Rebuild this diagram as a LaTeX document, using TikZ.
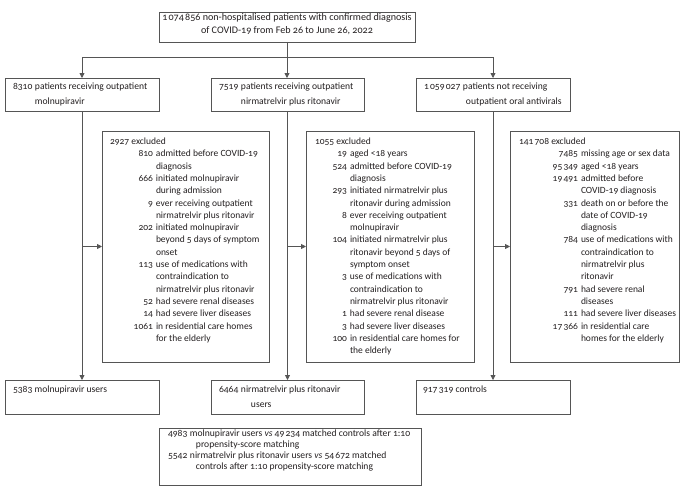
\documentclass[tikz,border=0pt]{standalone}
\usepackage{fontspec}
\setmainfont[Numbers=OldStyle]{Carlito}
\usepackage{array}
\usetikzlibrary{arrows.meta}
\newcommand\ts{\hspace{1.2pt}}
\definecolor{lc}{HTML}{555555}
\definecolor{tc}{HTML}{231F20}
\begin{document}
\begin{tikzpicture}[x=1pt,y=-1pt,
  box/.style={draw=lc, line width=0.8pt, inner sep=0pt, outer sep=0pt, anchor=north west},
  txt/.style={inner sep=0pt, outer sep=0pt, anchor=north west, text=tc},
  arr/.style={draw=lc, line width=0.8pt, -{Triangle[length=5pt,width=5pt]}},
  ln/.style={draw=lc, line width=0.8pt},
  rowf/.style={font=\fontsize{9.6}{14.5}\selectfont},
  exf/.style={font=\fontsize{9.5}{12.3}\selectfont},
  finf/.style={font=\fontsize{9.6}{10.8}\selectfont}]
\path[use as bounding box, fill=white] (0,0) rectangle (682,495);

% top box
\node[box, minimum width=256, minimum height=30] (top) at (159,12) {};
\node[txt, anchor=north, font=\fontsize{10.1}{13.4}\selectfont] (topt) at (287,11.1)
 {\begin{tabular}{@{}c@{}}1\ts074\ts856 non-hospitalised patients with confirmed diagnosis\\ of COVID-19 from Feb 26 to June 26, 2022\end{tabular}};

% row boxes
\node[box, minimum width=154, minimum height=33] (r1) at (5,78) {};
\node[box, minimum width=153, minimum height=33] (r2) at (211,78) {};
\node[box, minimum width=154, minimum height=33] (r3) at (416,78) {};
\node[txt, rowf] (r1t) at (13,79.4) {\begin{tabular}{@{}l@{\hspace{2.5pt}}l@{}}8310 & patients receiving outpatient\\ & molnupiravir\end{tabular}};
\node[txt, rowf] (r2t) at (219,79.4) {\begin{tabular}{@{}l@{\hspace{2.5pt}}l@{}}7519 & patients receiving outpatient\\ & nirmatrelvir plus ritonavir\end{tabular}};
\node[txt, rowf] (r3t) at (424,79.4) {\begin{tabular}{@{}l@{\hspace{2.5pt}}l@{}}1\ts059\ts027 & patients not receiving\\ & \hspace{3pt}outpatient oral antivirals\end{tabular}};

% exclusion boxes
\node[box, minimum width=167, minimum height=231] (e1) at (102,131) {};
\node[box, minimum width=168, minimum height=231] (e2) at (306,131) {};
\node[box, minimum width=169, minimum height=231] (e3) at (510,131) {};

\node[txt, exf] (e1t) at (110,135.9) {\begin{tabular}{@{}>{\raggedleft\arraybackslash}p{43pt}@{\hspace{3pt}}l@{}}
\multicolumn{2}{@{}l@{}}{2927 excluded}\\
810 & admitted before COVID-19\\
 & diagnosis\\
666 & initiated molnupiravir\\
 & during admission\\
9 & ever receiving outpatient\\
 & nirmatrelvir plus ritonavir\\
202 & initiated molnupiravir\\
 & beyond 5 days of symptom\\
 & onset\\
113 & use of medications with\\
 & contraindication to\\
 & nirmatrelvir plus ritonavir\\
52 & had severe renal diseases\\
14 & had severe liver diseases\\
1061 & in residential care homes\\
 & for the elderly
\end{tabular}};

\node[txt, exf] (e2t) at (315,135.9) {\begin{tabular}{@{}>{\raggedleft\arraybackslash}p{32pt}@{\hspace{3pt}}l@{}}
\multicolumn{2}{@{}l@{}}{1055 excluded}\\
19 & aged <18 years\\
524 & admitted before COVID-19\\
 & diagnosis\\
293 & initiated nirmatrelvir plus\\
 & ritonavir during admission\\
8 & ever receiving outpatient\\
 & molnupiravir\\
104 & initiated nirmatrelvir plus\\
 & ritonavir beyond 5 days of\\
 & symptom onset\\
3 & use of medications with\\
 & contraindication to\\
 & nirmatrelvir plus ritonavir\\
1 & had severe renal disease\\
3 & had severe liver diseases\\
100 & in residential care homes for\\
 & the elderly
\end{tabular}};

\node[txt, exf] (e3t) at (519,135.9) {\begin{tabular}{@{}>{\raggedleft\arraybackslash}p{59pt}@{\hspace{3pt}}l@{}}
\multicolumn{2}{@{}l@{}}{141\ts708 excluded}\\
7485 & missing age or sex data\\
95\ts349 & aged <18 years\\
19\ts491 & admitted before\\
 & COVID-19 diagnosis\\
331 & death on or before the\\
 & date of COVID-19\\
 & diagnosis\\
784 & use of medications with\\
 & contraindication to\\
 & nirmatrelvir plus\\
 & ritonavir\\
791 & had severe renal\\
 & diseases\\
111 & had severe liver diseases\\
17\ts366 & in residential care\\
 & homes for the elderly
\end{tabular}};

% bottom boxes
\node[box, minimum width=154, minimum height=34] (f1) at (5,380) {};
\node[box, minimum width=153, minimum height=34] (f2) at (211,380) {};
\node[box, minimum width=154, minimum height=34] (f3) at (416,380) {};
\node[txt, rowf] (f1t) at (13,382.7) {\begin{tabular}{@{}l@{}}5383 molnupiravir users\end{tabular}};
\node[txt, rowf] (f2t) at (219,382.7) {\begin{tabular}{@{}l@{\hspace{2.5pt}}l@{}}6464 & nirmatrelvir plus ritonavir\\ & \hspace{10pt}users\end{tabular}};
\node[txt, rowf] (f3t) at (423,382.7) {\begin{tabular}{@{}l@{}}917\ts319 controls\end{tabular}};

% final box
\node[box, minimum width=262, minimum height=57] (g) at (159,428) {};
\node[txt, finf] (gt) at (168,429.1) {\begin{tabular}{@{}l@{\hspace{2.5pt}}l@{}}
4983 & molnupiravir users \textit{vs} 49\ts234 matched controls after 1:10\\
 & \hspace{6pt}propensity-score matching\\
5542 & nirmatrelvir plus ritonavir users \textit{vs} 54\ts672 matched\\
 & \hspace{6pt}controls after 1:10 propensity-score matching
\end{tabular}};

% connectors
\coordinate (hub) at (287,57);
\draw[ln] (top.south) -- (hub);
\draw[arr] (hub) -| (r1.north);
\draw[arr] (hub) -- (hub |- r2.north);
\draw[arr] (hub) -| (r3.north);
\draw[arr] (r1.south) -- (f1.north);
\draw[arr] (r2.south) -- (f2.north);
\draw[arr] (r3.south) -- (f3.north);
\draw[arr] (r1.south |- e1.west) -- (e1.west);
\draw[arr] (r2.south |- e2.west) -- (e2.west);
\draw[arr] (r3.south |- e3.west) -- (e3.west);
\end{tikzpicture}
\end{document}
